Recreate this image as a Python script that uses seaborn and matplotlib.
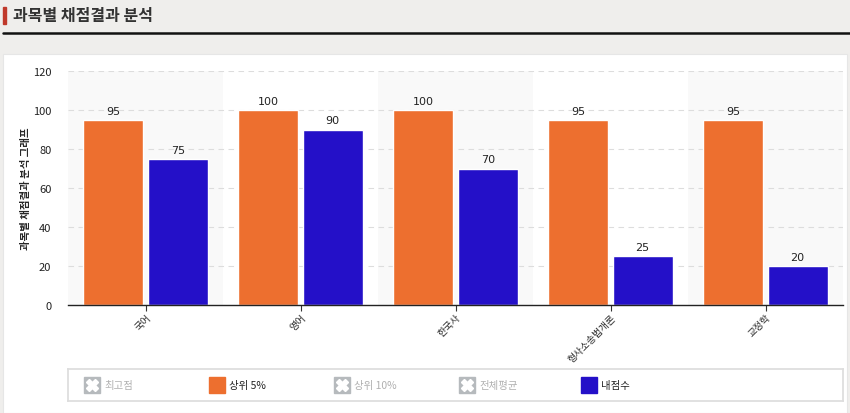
import matplotlib
matplotlib.use("Agg")
import matplotlib.pyplot as plt
import pandas as pd
import seaborn as sns
from matplotlib.lines import Line2D
from matplotlib.patches import Rectangle

subjects = ["국어", "영어", "한국사", "형사소송법개론", "교정학"]
top5 = [95, 100, 100, 95, 95]
my_score = [75, 90, 70, 25, 20]
series_names = ["상위 5%", "내점수"]
legend_items = ["최고점", "상위 5%", "상위 10%", "전체평균", "내점수"]
legend_active = [False, True, False, False, True]

ORANGE = "#ED6F2F"
BLUE = "#2410C8"
W, H = 850, 414

sns.set_theme(style="white")
plt.rcParams["font.family"] = ["Noto Sans CJK KR", "DejaVu Sans"]


def fx(px):
    return px / W


def fy(py):
    return 1 - py / H


df = pd.DataFrame({
    "subject": subjects * 2,
    "score": top5 + my_score,
    "series": [series_names[0]] * len(subjects) + [series_names[1]] * len(subjects),
})

fig = plt.figure(figsize=(W / 100, H / 100), dpi=100, facecolor="#efeeec")

# header
fig.add_artist(Rectangle((fx(3), fy(25)), fx(3), 17 / H, color="#c0392b", transform=fig.transFigure))
fig.text(fx(13), fy(16), "과목별 채점결과 분석", fontsize=11.5, fontweight="bold", color="#333333", va="center")
fig.add_artist(Line2D([fx(3), 1], [fy(34), fy(34)], color="#111111", lw=1.8, transform=fig.transFigure))
# white panel
fig.add_artist(Rectangle((fx(3), 0), fx(844), fy(55), facecolor="white", edgecolor="#e6e6e6",
                         lw=0.8, transform=fig.transFigure, zorder=0))

ax = fig.add_axes([fx(68), fy(306), fx(775), (306 - 72) / H])
ax.set_facecolor("none")
for i in range(len(subjects)):
    if i % 2 == 0:
        ax.axvspan(i - 0.5, i + 0.5, color="#f9f9f9", zorder=0, lw=0)

sns.barplot(data=df, x="subject", y="score", hue="series", palette=[ORANGE, BLUE],
            width=0.83, gap=0.07, saturation=1, ax=ax, legend=False, zorder=2)
for cont in ax.containers:
    ax.bar_label(cont, padding=3, fontsize=8, color="#222222", family="DejaVu Sans")

ax.set_ylim(0, 120)
ax.set_yticks(range(0, 121, 20))
ax.set_xlim(-0.5, len(subjects) - 0.5)
ax.yaxis.grid(True, linestyle=(0, (5, 4)), color="#dddddd", lw=0.8, zorder=1)
ax.set_axisbelow(True)
ax.tick_params(axis="y", labelsize=8, length=0, colors="#222222", pad=12)
ax.tick_params(axis="x", labelsize=7, length=4, width=0.8, color="#333333", bottom=True, pad=1)
plt.setp(ax.get_xticklabels(), rotation=45, ha="right", rotation_mode="anchor")
ax.set_xlabel("")
ax.set_ylabel("과목별 채점결과 분석 그래프", fontsize=7.5, fontweight="bold", labelpad=1)
for s in ["top", "right", "left"]:
    ax.spines[s].set_visible(False)
ax.spines["bottom"].set_color("#222222")
ax.spines["bottom"].set_linewidth(1)

# legend box
lax = fig.add_axes([fx(68), fy(402), fx(775), 32 / H])
lax.set_xlim(68, 843)
lax.set_ylim(0, 1)
lax.set_xticks([])
lax.set_yticks([])
for s in lax.spines.values():
    s.set_color("#dddddd")
item_x = [92, 217, 342, 467, 589]
for x0, name, on in zip(item_x, legend_items, legend_active):
    if on:
        color = ORANGE if name == series_names[0] else BLUE
        lax.plot(x0, 0.5, marker="s", ms=11, color=color, mec=color)
        lax.text(x0 + 12, 0.5, name, fontsize=7.5, color="#222222", va="center")
    else:
        lax.plot(x0, 0.5, marker="s", ms=11, color="#b6babd", mec="#b6babd")
        lax.plot(x0, 0.5, marker="X", ms=8, color="white", mec="white")
        lax.text(x0 + 12, 0.5, name, fontsize=7.5, color="#b0b0b0", va="center")

fig.savefig("out.png", dpi=100, facecolor=fig.get_facecolor())
